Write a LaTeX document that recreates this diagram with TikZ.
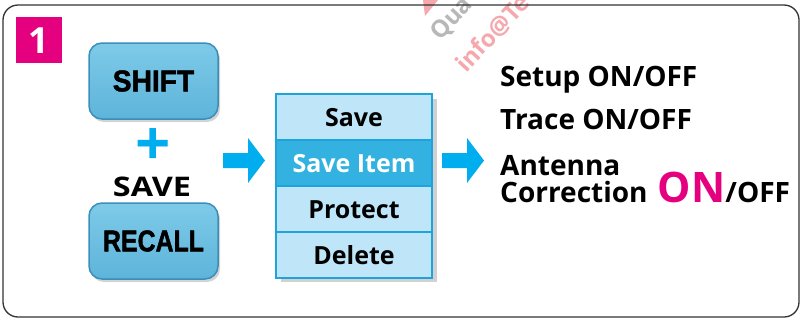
\documentclass[tikz,border=0pt]{standalone}
\usepackage{fontspec}
\setmainfont{Open Sans}
\newfontfamily\keyfont[BoldFeatures={FakeBold=1.6}]{Liberation Sans}
\usetikzlibrary{shadows}
\definecolor{mag}{HTML}{E4007F}
\definecolor{cyanc}{HTML}{00AEEF}
\definecolor{keytop}{HTML}{7ECAE8}
\definecolor{keybot}{HTML}{5DB4DA}
\definecolor{keyrim}{HTML}{3A8FB8}
\definecolor{menufill}{HTML}{BEE5F8}
\definecolor{menurim}{HTML}{1EA3DA}
\definecolor{menuhi}{HTML}{33B2E2}
\definecolor{wmgrey}{HTML}{B8B8B8}
\definecolor{wmpink}{HTML}{F5A8AE}
\begin{document}
\begin{tikzpicture}[x=1pt,y=-1pt,
  keybox/.style={rounded corners=13pt, minimum width=129pt, minimum height=76pt,
    top color=keytop, bottom color=keybot, draw=keyrim, line width=1.5pt,
    drop shadow={shadow xshift=2pt, shadow yshift=-3pt, opacity=.35}, inner sep=0pt},
  menuitem/.style={rectangle, minimum width=156pt, minimum height=46pt, fill=menufill,
    draw=menurim, line width=2.8pt, inner sep=0pt, text height=18pt, text depth=0pt,
    font=\fontsize{25}{25}\selectfont\bfseries},
  rtxt/.style={anchor=base west, inner sep=0pt, font=\fontsize{28}{28}\selectfont\bfseries},
  wmtxt/.style={anchor=base west, rotate=47, inner sep=0pt, font=\fontsize{24}{24}\selectfont\bfseries},
  arrowfill/.style={fill=cyanc}
]
\useasboundingbox (0,0) rectangle (802,322);
% watermark fragments
\fill[wmpink] (423,0) -- (438,0) -- (425,16) -- cycle;
\node[wmtxt, text=wmgrey] (wm1) at (440,42) {Qua};
\node[wmtxt, text=wmpink] (wm2) at (466,74) {info@Te};
% frame
\draw[line width=1.3pt, draw=black!80, rounded corners=15pt] (3,5) rectangle (799,317);
% step number
\node[fill=mag, minimum size=46pt, inner sep=0pt, text=white, text height=26pt, text depth=0pt,
  font=\fontsize{36}{36}\selectfont\bfseries] (num) at (39,40) {1};
% keys
\node[keybox] (shift) at (153.5,81) {\scalebox{0.94}[1]{\keyfont\fontsize{30}{30}\selectfont\bfseries SHIFT}};
\node[text=cyanc, inner sep=0pt, font=\fontsize{62}{62}\selectfont\bfseries] (plus) at (153,147) {+};
\node[inner sep=0pt, text height=19pt, text depth=0pt] (savelbl) at (152,186.5)
  {\scalebox{1.2}[1]{\fontsize{27}{27}\selectfont\bfseries SAVE}};
\node[keybox] (recall) at (153.5,241) {\scalebox{0.83}[1]{\keyfont\fontsize{30}{30}\selectfont\bfseries RECALL}};
% arrows
\fill[arrowfill] (223,153) -- (248,153) -- (248,138) -- (265,160.5) -- (248,183) -- (248,168) -- (223,168) -- cycle;
\fill[arrowfill] (442,153) -- (467,153) -- (467,138) -- (484,160.5) -- (467,183) -- (467,168) -- (442,168) -- cycle;
% menu
\fill[black, opacity=.18] (281,99) rectangle (437,282);
\node[menuitem] (m1) at (354,117) {Save};
\node[menuitem, fill=menuhi, text=white] (m2) at (354,163) {Save Item};
\node[menuitem] (m3) at (354,209) {Protect};
\node[menuitem] (m4) at (354,255) {Delete};
% right texts
\node[rtxt] (setup) at (500,86) {Setup ON/OFF};
\node[rtxt] (trace) at (500,129) {Trace ON/OFF};
\node[rtxt] (ant) at (500,175) {Antenna};
\node[rtxt] (corr) at (500,202) {Correction\hspace{3pt} {\color{mag}\fontsize{42}{42}\selectfont ON}/OFF};
\end{tikzpicture}
\end{document}
